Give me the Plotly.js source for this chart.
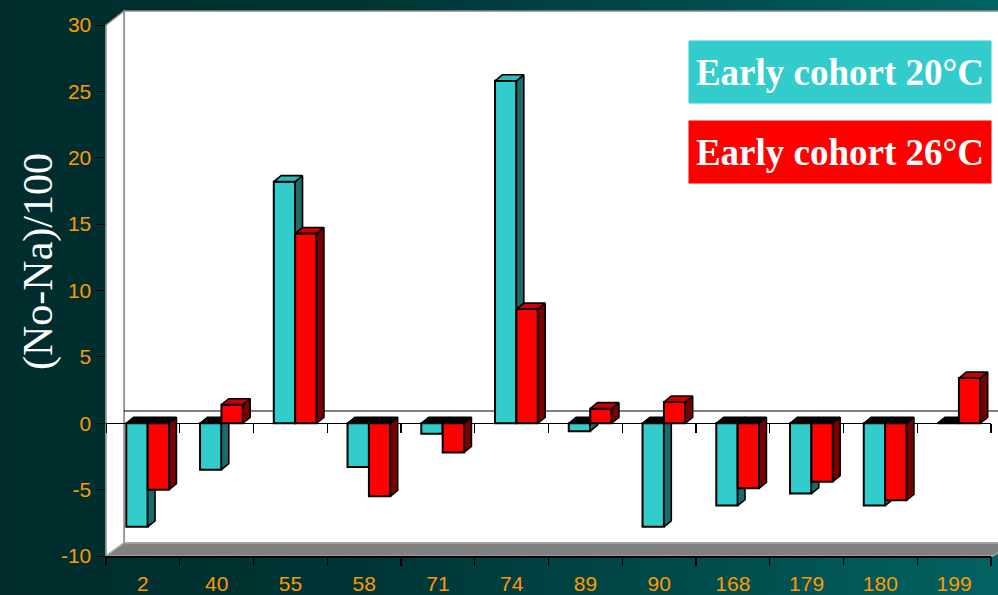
<!DOCTYPE html>
<html>
<head>
<meta charset="utf-8">
<script src="https://cdn.plot.ly/plotly-3.0.1.min.js"></script>
<style>
  html, body { margin: 0; padding: 0; }
  body {
    width: 998px; height: 595px; overflow: hidden;
    background: linear-gradient(to right, #002c2c 0%, #003434 35%, #014848 65%, #036262 100%);
  }
  #chart { width: 998px; height: 595px; }
</style>
</head>
<body>
<div id="chart"></div>
<script>
// ---- data ----
const categories = ['2','40','55','58','71','74','89','90','168','179','180','199'];
const early20 = [-7.8, -3.5, 18.2, -3.3, -0.8, 25.8, -0.6, -7.8, -6.2, -5.3, -6.2, 0];
const early26 = [-5.0, 1.4, 14.3, -5.5, -2.2, 8.6, 1.1, 1.6, -4.9, -4.4, -5.8, 3.4];
const seriesNames = ['Early cohort 20°C', 'Early cohort 26°C'];
const yTickVals = [-10, -5, 0, 5, 10, 15, 20, 25, 30];
const yTickText = ['-10', '-5', '0', '5', '10', '15', '20', '25', '30'];

// ---- geometry / style ----
const L = 106, R = 991, T = 25, B = 556, W = 998, H = 595;
const X = px => (px - L) / (R - L);
const Y = py => (B - py) / (B - T);
const barW = 0.29, depthX = 0.10, depthY = 0.45;
const off20 = -0.08, off26 = 0.21;
const idx = categories.map((c, i) => i);
const xr = [-0.5, categories.length - 0.5];
const yr = [-10, 30];

function faces(vals, off, xa, ya, topCol, sideCol) {
  const top = {x: [], y: []}, cap = {x: [], y: []}, side = {x: [], y: []};
  vals.forEach((v, i) => {
    const x0 = i + off - barW / 2, x1 = i + off + barW / 2;
    const t = v > 0 ? v : 0;
    const tgt = v > 0 ? top : cap;
    tgt.x.push(x0, x1, x1 + depthX, x0 + depthX, x0, null);
    tgt.y.push(t, t, t + depthY, t + depthY, t, null);
    if (v !== 0) {
      const lo = Math.min(0, v), hi = Math.max(0, v);
      side.x.push(x1, x1 + depthX, x1 + depthX, x1, x1, null);
      side.y.push(lo, lo + depthY, hi + depthY, hi, lo, null);
    }
  });
  const mk = (d, col) => ({
    type: 'scatter', mode: 'lines', x: d.x, y: d.y, xaxis: xa, yaxis: ya,
    fill: 'toself', fillcolor: col, line: {color: '#000', width: 1.6},
    hoverinfo: 'skip', showlegend: false
  });
  return [mk(side, sideCol), mk(top, topCol), mk(cap, '#000')];
}

const traces = [];
traces.push({
  type: 'bar', name: seriesNames[0], x: idx.map(i => i + off20), y: early20, width: barW, base: 0,
  marker: {color: '#33CCCC', line: {color: '#000', width: 2}}, xaxis: 'x', yaxis: 'y', hoverinfo: 'y'
});
traces.push(...faces(early20, off20, 'x', 'y', '#2DBABA', '#1D6A6A'));
traces.push({
  type: 'bar', name: seriesNames[1], x: idx.map(i => i + off26), y: early26, width: barW, base: 0,
  marker: {color: '#FF0000', line: {color: '#000', width: 2}}, xaxis: 'x2', yaxis: 'y2', hoverinfo: 'y'
});
traces.push(...faces(early26, off26, 'x2', 'y2', '#CC0000', '#7A0000'));
// helper (invisible) traces to activate the tick-only axes
['x3', 'x4'].forEach(a => traces.push({
  type: 'scatter', mode: 'markers', x: [0], y: [0], xaxis: a, yaxis: 'y',
  marker: {opacity: 0}, hoverinfo: 'skip', showlegend: false
}));

const boundaries = [];
for (let i = 0; i <= categories.length; i++) boundaries.push(i - 0.5);

const tickFont = {family: 'Liberation Sans, Arial, sans-serif', size: 21, color: '#FF9900'};

const shapes = [
  // back wall
  {type: 'path', xref: 'paper', yref: 'paper', layer: 'below',
   path: `M ${X(124)} ${Y(543)} L ${X(124)} ${Y(11)} L ${X(1012)} ${Y(11)} L ${X(1012)} ${Y(543)} Z`,
   fillcolor: '#FFFFFF', line: {color: '#8A8A8A', width: 1.5}},
  // left wall
  {type: 'path', xref: 'paper', yref: 'paper', layer: 'below',
   path: `M ${X(106)} ${Y(556)} L ${X(106)} ${Y(25)} L ${X(124)} ${Y(11)} L ${X(124)} ${Y(543)} Z`,
   fillcolor: '#FFFFFF', line: {color: '#8A8A8A', width: 1.5}},
  // floor
  {type: 'path', xref: 'paper', yref: 'paper', layer: 'below',
   path: `M ${X(106)} ${Y(556)} L ${X(124)} ${Y(543)} L ${X(1012)} ${Y(543)} L ${X(993)} ${Y(556)} Z`,
   fillcolor: '#808080', line: {color: '#A8A8A8', width: 1.5}},
  // zero line on back wall
  {type: 'line', xref: 'paper', yref: 'paper', layer: 'below',
   x0: X(124), x1: X(1012), y0: Y(411), y1: Y(411), line: {color: '#000', width: 1}}
];

const annotations = [
  {text: '(No-Na)/100', xref: 'paper', yref: 'paper', x: X(38), y: Y(262),
   xanchor: 'center', yanchor: 'middle', textangle: -90, showarrow: false,
   font: {family: 'Liberation Serif, Times New Roman, serif', size: 42, color: '#FFFFFF'}},
  {text: '<b>' + seriesNames[0] + '</b>', xref: 'paper', yref: 'paper', x: X(840), y: Y(72),
   xanchor: 'center', yanchor: 'middle', showarrow: false, width: 302, height: 62, borderpad: 0,
   bgcolor: '#33CCCC', font: {family: 'Liberation Serif, Times New Roman, serif', size: 37, color: '#FFFFFF'}},
  {text: '<b>' + seriesNames[1] + '</b>', xref: 'paper', yref: 'paper', x: X(840), y: Y(152),
   xanchor: 'center', yanchor: 'middle', showarrow: false, width: 302, height: 62, borderpad: 0,
   bgcolor: '#FF0000', font: {family: 'Liberation Serif, Times New Roman, serif', size: 37, color: '#FFFFFF'}}
];

const layout = {
  width: W, height: H,
  margin: {l: L, r: W - R, t: T, b: H - B, pad: 0},
  paper_bgcolor: 'rgba(0,0,0,0)', plot_bgcolor: 'rgba(0,0,0,0)',
  showlegend: false, barmode: 'overlay',
  xaxis: {range: xr, tickmode: 'array', tickvals: idx, ticktext: categories,
          ticks: 'outside', ticklen: 8, tickcolor: 'rgba(0,0,0,0)',
          showline: true, linecolor: '#000', linewidth: 1.5, showgrid: false, zeroline: false,
          tickfont: tickFont, fixedrange: true},
  yaxis: {range: yr, tickmode: 'array', tickvals: yTickVals, ticktext: yTickText, ticks: 'outside', ticklen: 9,
          tickcolor: '#000', tickwidth: 1, showline: true, linecolor: '#8A8A8A', linewidth: 1.5,
          showgrid: false, zeroline: false, tickfont: tickFont, fixedrange: true},
  xaxis2: {range: xr, overlaying: 'x', anchor: 'y2', visible: false, fixedrange: true},
  yaxis2: {range: yr, overlaying: 'y', anchor: 'x2', visible: false, fixedrange: true},
  xaxis3: {range: xr, overlaying: 'x', anchor: 'y', tickmode: 'array', tickvals: boundaries,
           ticks: 'outside', ticklen: 9, tickcolor: '#000', tickwidth: 1.2,
           showticklabels: false, showline: false, showgrid: false, zeroline: false, fixedrange: true},
  xaxis4: {range: xr, overlaying: 'x', anchor: 'free', position: 0.25, layer: 'below traces',
           tickmode: 'array', tickvals: boundaries, ticks: 'outside', ticklen: 9,
           tickcolor: '#000', tickwidth: 1.2, showticklabels: false,
           showline: true, linecolor: '#000', linewidth: 1.2, showgrid: false, zeroline: false, fixedrange: true},
  shapes: shapes,
  annotations: annotations
};

Plotly.newPlot('chart', traces, layout, {displayModeBar: false, staticPlot: true});
</script>
</body>
</html>
